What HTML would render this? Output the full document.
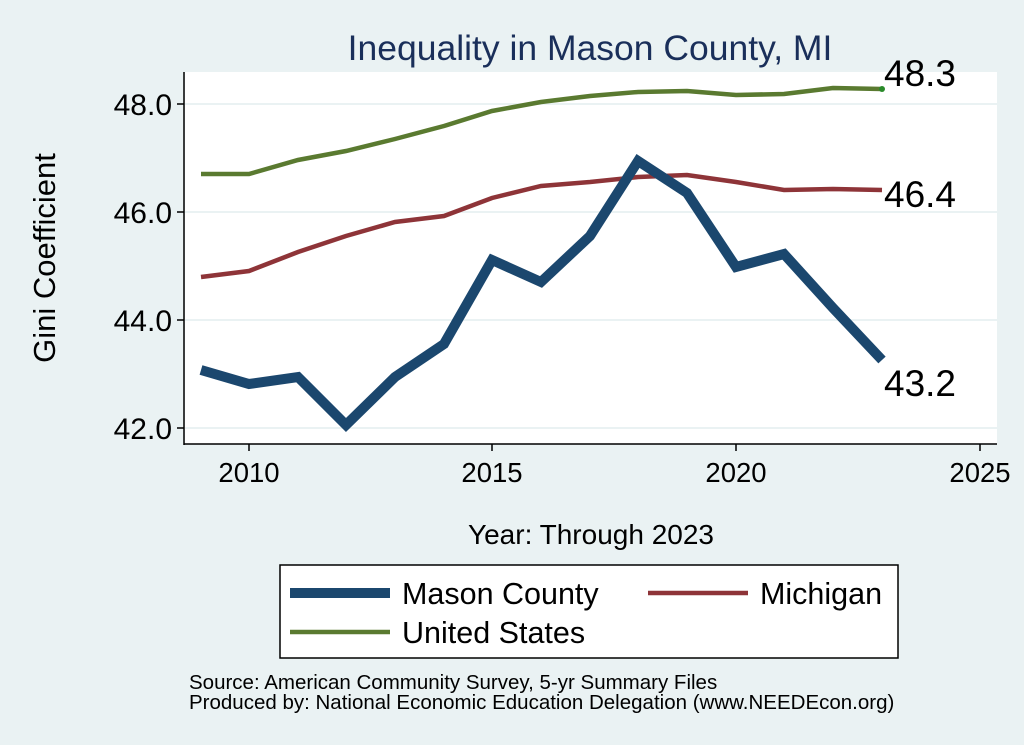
<!DOCTYPE html>
<html><head><style>body{margin:0;background:#eaf2f3;}svg{display:block;font-family:"Liberation Sans",sans-serif;}</style></head>
<body>
<svg width="1024" height="745" viewBox="0 0 1024 745">
<rect width="1024" height="745" fill="#eaf2f3"/>
<rect x="185" y="72" width="812" height="372" fill="#fff"/>
<g stroke="#eaf2f3" stroke-width="2">
<line x1="185" y1="104" x2="997" y2="104"/><line x1="185" y1="212" x2="997" y2="212"/>
<line x1="185" y1="320" x2="997" y2="320"/><line x1="185" y1="428" x2="997" y2="428"/>
</g>
<g stroke="#000" stroke-width="1.5">
<line x1="184" y1="72" x2="184" y2="445"/><line x1="184" y1="444" x2="997" y2="444"/>
<line x1="177" y1="104" x2="184" y2="104"/><line x1="177" y1="212" x2="184" y2="212"/>
<line x1="177" y1="320" x2="184" y2="320"/><line x1="177" y1="428" x2="184" y2="428"/>
<line x1="249" y1="444" x2="249" y2="451"/><line x1="492" y1="444" x2="492" y2="451"/>
<line x1="736" y1="444" x2="736" y2="451"/><line x1="980" y1="444" x2="980" y2="451"/>
</g>
<g font-size="30" text-anchor="end" fill="#000">
<text x="172" y="115">48.0</text><text x="172" y="223">46.0</text><text x="172" y="331">44.0</text><text x="172" y="439">42.0</text>
</g>
<g font-size="27.5" text-anchor="middle" fill="#000">
<text x="249" y="482">2010</text><text x="492" y="482">2015</text><text x="736" y="482">2020</text><text x="980" y="482">2025</text>
</g>
<text x="591" y="544" font-size="28" text-anchor="middle">Year: Through 2023</text>
<text transform="translate(55,258) rotate(-90)" font-size="31" text-anchor="middle">Gini Coefficient</text>
<text x="590" y="60" font-size="35.5" text-anchor="middle" fill="#1a2f5a">Inequality in Mason County, MI</text>
<polyline fill="none" stroke="#5a7a30" stroke-width="4.5" points="201,174 249,174 298,160 346,151 395,139 444,126 492,111 541,102 590,96 638,92 687,91 736,95 784,94 833,88 882,89"/>
<circle cx="882" cy="89" r="3" fill="#2a8a2a"/>
<polyline fill="none" stroke="#8e3438" stroke-width="4.5" points="201,277 249,271 298,252 346,236 395,222 444,216 492,198 541,186 590,182 638,177 687,175 736,182 784,190 833,189 882,190"/>
<polyline fill="none" stroke="#1b476e" stroke-width="10" stroke-linejoin="miter" points="201,370 249,384 298,377 346,425 395,377 444,344 492,260 541,282 590,236 638,161 687,193 736,267 784,254 833,308 882,360"/>
<g font-size="37" fill="#000">
<text x="884" y="86">48.3</text><text x="884" y="207">46.4</text><text x="884" y="396">43.2</text>
</g>
<rect x="280" y="565" width="618" height="93" fill="#fff" stroke="#000" stroke-width="1.5"/>
<line x1="290" y1="593" x2="390" y2="593" stroke="#1b476e" stroke-width="10"/>
<line x1="648" y1="593" x2="748" y2="593" stroke="#8e3438" stroke-width="4.5"/>
<line x1="290" y1="632" x2="390" y2="632" stroke="#5a7a30" stroke-width="4.5"/>
<g font-size="30.5" fill="#000">
<text x="402" y="604">Mason County</text><text x="760" y="604">Michigan</text><text x="402" y="643">United States</text>
</g>
<g font-size="20.5" fill="#000">
<text x="189" y="689">Source: American Community Survey, 5-yr Summary Files</text>
<text x="189" y="709">Produced by: National Economic Education Delegation (www.NEEDEcon.org)</text>
</g>
</svg>
</body></html>
